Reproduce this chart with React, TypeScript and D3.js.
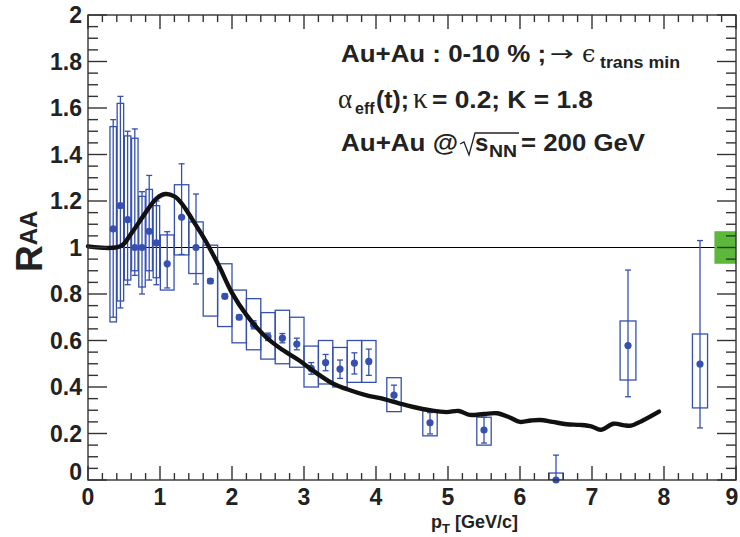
import React from 'react';
import * as d3 from 'd3';

// measured points: pT, RAA, stat low/high, sys low/high, half bin width
const ptVals = [0.35, 0.45, 0.55, 0.65, 0.75, 0.85, 0.95, 1.1, 1.3, 1.5, 1.7, 1.9, 2.1, 2.3, 2.5, 2.7, 2.9, 3.1, 3.3, 3.5, 3.7, 3.9, 4.25, 4.75, 5.5, 6.5, 7.5, 8.5];
const raaVals = [1.08, 1.18, 1.12, 1.0, 1.0, 1.07, 1.02, 0.93, 1.13, 1.0, 0.856, 0.79, 0.7, 0.667, 0.616, 0.61, 0.585, 0.48, 0.505, 0.477, 0.503, 0.51, 0.365, 0.246, 0.215, 0.0, 0.578, 0.499];
const statLo = [0.7, 0.74, 0.84, 0.88, 0.8, 0.86, 0.84, 0.826, 0.97, 0.843, 0.846, 0.78, 0.69, 0.65, 0.6, 0.59, 0.56, 0.455, 0.47, 0.437, 0.456, 0.45, 0.34, 0.198, 0.159, 0.0, 0.358, 0.224];
const statHi = [1.55, 1.65, 1.5, 1.51, 1.24, 1.31, 1.2, 1.068, 1.36, 1.23, 0.866, 0.8, 0.71, 0.685, 0.632, 0.63, 0.61, 0.505, 0.54, 0.516, 0.547, 0.563, 0.408, 0.29, 0.27, 0.107, 0.903, 1.03];
const sysLo = [0.68, 0.77, 0.86, 0.9, 0.83, 0.9, 0.87, 0.817, 0.968, 0.888, 0.705, 0.66, 0.59, 0.56, 0.52, 0.5, 0.485, 0.4, 0.413, 0.4, 0.42, 0.42, 0.294, 0.19, 0.15, 0.0, 0.43, 0.31];
const sysHi = [1.52, 1.62, 1.48, 1.47, 1.22, 1.25, 1.18, 1.054, 1.27, 1.11, 1.01, 0.93, 0.817, 0.78, 0.72, 0.73, 0.7, 0.576, 0.6, 0.57, 0.6, 0.6, 0.44, 0.298, 0.27, 0.03, 0.684, 0.628];
const binHalf = [0.045, 0.045, 0.045, 0.045, 0.045, 0.045, 0.045, 0.095, 0.1, 0.1, 0.1, 0.1, 0.1, 0.1, 0.1, 0.1, 0.1, 0.1, 0.1, 0.1, 0.1, 0.1, 0.1, 0.1, 0.1, 0.1, 0.11, 0.105];

// model curve
const curveX = [0, 0.45, 0.6, 0.8, 0.95, 1.07, 1.2, 1.3, 1.45, 1.63, 1.82, 2.0, 2.2, 2.47, 2.7, 2.93, 3.15, 3.4, 3.65, 3.87, 4.06, 4.33, 4.52, 4.75, 4.98, 5.15, 5.3, 5.5, 5.68, 5.85, 6.0, 6.15, 6.28, 6.45, 6.65, 6.83, 7.0, 7.12, 7.3, 7.45, 7.54, 7.7, 7.93];
const curveY = [1.005, 1.005, 1.06, 1.15, 1.21, 1.23, 1.22, 1.19, 1.12, 1.03, 0.92, 0.805, 0.71, 0.615, 0.56, 0.515, 0.465, 0.415, 0.385, 0.364, 0.352, 0.329, 0.314, 0.3, 0.292, 0.297, 0.28, 0.284, 0.287, 0.27, 0.25, 0.256, 0.258, 0.25, 0.24, 0.237, 0.23, 0.216, 0.242, 0.235, 0.234, 0.255, 0.294];

const xTicks = [0, 1, 2, 3, 4, 5, 6, 7, 8, 9];
const yTicks = [0, 0.2, 0.4, 0.6, 0.8, 1, 1.2, 1.4, 1.6, 1.8, 2];

const blue = '#3550b0';
const font = '"Liberation Sans", Arial, sans-serif';

export default function App() {
  const width = 740;
  const height = 537;
  const x = d3.scaleLinear().domain([0, 9]).range([88, 736]);
  const y = d3.scaleLinear().domain([0, 2]).range([480, 15]);

  const xMinor = d3.range(0, 9.001, 0.2);
  const yMinor = d3.range(0, 2.001, 0.05);

  const line = d3
    .line<number>()
    .x((d, i) => x(curveX[i]))
    .y((d) => y(d))
    .curve(d3.curveCatmullRom);

  const [x0, x1] = x.range();
  const [y0, y1] = y.range();

  return (
    <svg width={width} height={height} style={{ position: 'absolute', left: 0, top: 0, background: '#fff' }}>
      <defs>
        <clipPath id="plot">
          <rect x={x0} y={y1} width={x1 - x0} height={y0 - y1} />
        </clipPath>
      </defs>

      {/* reference line and normalisation box */}
      <line x1={x(0)} x2={x(9)} y1={y(1)} y2={y(1)} stroke="#000" strokeWidth={1.2} />
      <rect x={x(8.7)} y={y(1.07)} width={x(9) - x(8.7)} height={y(0.93) - y(1.07)} fill="#5cb83a" />

      {/* data */}
      <g clipPath="url(#plot)" stroke={blue} fill="none" strokeWidth={1.3}>
        {ptVals.map((pt, i) => (
          <g key={i}>
            <rect
              x={x(pt - binHalf[i])}
              y={y(sysHi[i])}
              width={x(pt + binHalf[i]) - x(pt - binHalf[i])}
              height={y(sysLo[i]) - y(sysHi[i])}
            />
            <line x1={x(pt)} x2={x(pt)} y1={y(statLo[i])} y2={y(statHi[i])} />
            <line x1={x(pt) - 3} x2={x(pt) + 3} y1={y(statLo[i])} y2={y(statLo[i])} />
            <line x1={x(pt) - 3} x2={x(pt) + 3} y1={y(statHi[i])} y2={y(statHi[i])} />
          </g>
        ))}
      </g>
      <g fill={blue}>
        {ptVals.map((pt, i) => (
          <circle key={i} cx={x(pt)} cy={y(raaVals[i])} r={3.6} />
        ))}
      </g>

      {/* model */}
      <path d={line(curveY) || ''} fill="none" stroke="#111" strokeWidth={4.4} strokeLinejoin="round" strokeLinecap="round" />

      {/* frame and ticks */}
      <g stroke="#333" strokeWidth={1.4}>
        <rect x={x0} y={y1} width={x1 - x0} height={y0 - y1} fill="none" />
        {xMinor.map((t, i) => {
          const major = Math.abs(t - Math.round(t)) < 1e-6;
          const len = major ? 14 : 7;
          return (
            <g key={'x' + i}>
              <line x1={x(t)} x2={x(t)} y1={y0} y2={y0 - len} />
              <line x1={x(t)} x2={x(t)} y1={y1} y2={y1 + len} />
            </g>
          );
        })}
        {yMinor.map((t, i) => {
          const major = Math.abs(t * 5 - Math.round(t * 5)) < 1e-6;
          const len = major ? 19 : 10;
          return (
            <g key={'y' + i}>
              <line x1={x0} x2={x0 + len} y1={y(t)} y2={y(t)} />
              <line x1={x1} x2={x1 - len} y1={y(t)} y2={y(t)} />
            </g>
          );
        })}
      </g>

      {/* tick labels */}
      <g fontFamily={font} fontWeight="bold" fontSize={23} fill="#222">
        {xTicks.map((t) => (
          <text key={t} x={Math.min(x(t), 732)} y={505} textAnchor="middle">
            {t}
          </text>
        ))}
        {yTicks.map((t) => (
          <text key={t} x={82} y={Math.min(y(t) + 8, 480)} textAnchor="end">
            {String(t)}
          </text>
        ))}
      </g>

      {/* axis titles */}
      <text x={431} y={528} fontFamily={font} fontWeight="bold" fontSize={18} fill="#222">
        p<tspan dy={5} fontSize={13}>T</tspan>
        <tspan dy={-5}> [GeV/c]</tspan>
      </text>
      <text transform="translate(42,272) rotate(-90)" fontFamily={font} fontWeight="bold" fontSize={37} fill="#222">
        R<tspan dy={-5} fontSize={24}>AA</tspan>
      </text>

      {/* annotations */}
      <g fontFamily={font} fontWeight="bold" fill="#222" fontSize={24}>
        <text x={341} y={62} textLength={205} lengthAdjust="spacingAndGlyphs">
          Au+Au : 0-10 % ;
        </text>
        <text x={550} y={61} fontFamily='"DejaVu Sans"' fontWeight="normal" fontSize={22} textLength={24} lengthAdjust="spacingAndGlyphs">
          →
        </text>
        <text x={582} y={62} fontFamily='"DejaVu Serif"' fontWeight="normal" fontSize={24}>
          ϵ
        </text>
        <text x={600} y={68} fontSize={16} textLength={80} lengthAdjust="spacingAndGlyphs">
          trans min
        </text>

        <text x={338} y={108} fontFamily='"Liberation Serif"' fontWeight="normal" fontSize={27}>
          α
        </text>
        <text x={355} y={114} fontSize={16}>
          eff
        </text>
        <text x={376} y={108} textLength={33} lengthAdjust="spacingAndGlyphs">
          (t);
        </text>
        <text x={413} y={108} fontFamily='"Liberation Serif"' fontWeight="normal" fontSize={29}>
          κ
        </text>
        <text x={432} y={108} textLength={161} lengthAdjust="spacingAndGlyphs">
          = 0.2; K = 1.8
        </text>

        <text x={341} y={151} textLength={117} lengthAdjust="spacingAndGlyphs">
          Au+Au @
        </text>
        <path d="M460,144 L464,142 L469,155 L475,133 L519,133" fill="none" stroke="#222" strokeWidth={1.3} />
        <text x={475} y={151}>
          s
        </text>
        <text x={489} y={157} fontSize={16} textLength={28} lengthAdjust="spacingAndGlyphs">
          NN
        </text>
        <text x={521} y={151} textLength={124} lengthAdjust="spacingAndGlyphs">
          = 200 GeV
        </text>
      </g>
    </svg>
  );
}
